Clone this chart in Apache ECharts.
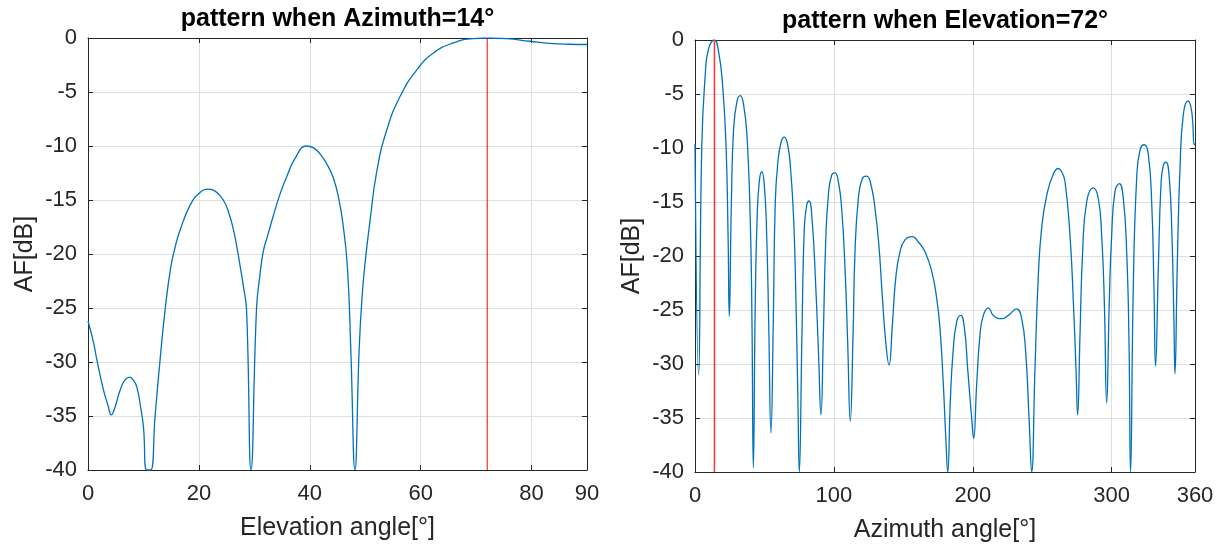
<!DOCTYPE html>
<html>
<head>
<meta charset="utf-8">
<title>Array factor patterns</title>
<script src="https://cdn.jsdelivr.net/npm/echarts@6/dist/echarts.min.js"></script>
<style>
  html, body { margin: 0; padding: 0; background: #ffffff; }
  #chart { width: 1225px; height: 548px; }
</style>
</head>
<body>
<div id="chart"></div>
<script>
// Elevation cut (azimuth fixed at 14°): angle in degrees, array factor in dB (floored at -40)
var elevAngle = [0, 1, 1.6, 2.8, 3.6, 4.2, 4.8, 5.8, 6.6, 7.5, 8.2, 8.8, 9.5, 10.0, 10.6, 11.3,
  12.1, 13.0, 13.9, 14.9, 15.7, 16.6, 18.4, 20.0, 21.7, 23.0, 24.4, 25.4, 26.2, 26.8, 27.4, 28.0,
  28.6, 29.4, 30.4, 31.0, 31.6, 32.4, 33.4, 34.6, 35.8, 37.5, 39.4, 40.6, 41.8, 43.0, 44.2, 45.2,
  46.0, 46.8, 47.4, 48.15, 48.9, 49.4, 50.0, 50.9, 52.1, 53.9, 56.3, 59.3, 62.3, 65.9, 69.5, 72,
  75.5, 79.7, 83.3, 86.6, 90];
var elevAF = [-26.2, -28.2, -29.8, -32.6, -34.0, -34.9, -34.3, -32.6, -31.7, -31.4, -31.7, -32.3, -34.2, -36.0, -40, -40,
  -35.0, -29.8, -25.2, -21.3, -19.4, -17.8, -15.5, -14.4, -14.0, -14.2, -15.0, -16.2, -17.7, -19.2, -21.0, -22.9,
  -25.2, -40, -25.0, -22.0, -19.8, -18.3, -16.5, -14.5, -12.9, -11.0, -10.0, -10.15, -10.7, -11.6, -12.9, -14.8,
  -17.3, -21.3, -28.9, -40, -28.9, -24.2, -20.7, -16.8, -12.3, -8.5, -5.4, -2.95, -1.39, -0.46, -0.05, 0,
  -0.06, -0.3, -0.5, -0.58, -0.6];

// Azimuth cut (elevation fixed at 72°)
var azAngle = [0, 2.6, 4.9, 7.4, 9.8, 14, 17.0, 19.9, 22.3, 23.8, 24.7, 26.2, 27.8, 30.2, 32.6, 35.0,
  37.4, 39.8, 41.0, 42.0, 43.4, 44.8, 46.3, 48.0, 49.9, 51.6, 53.0, 54.7, 56.4, 57.8, 59.7, 62.1,
  64.3, 66.7, 68.8, 71.0, 72.7, 74.1, 75.1, 77.0, 78.7, 80.4, 82.1, 84.4, 86.9, 88.9, 90.7, 92.4,
  94.1, 96.0, 98.4, 100.8, 103.2, 105.6, 108.0, 109.9, 111.8, 113.8, 115.2, 117.6, 120.5, 123.6, 126.7, 129.6,
  132.4, 134.8, 137.3, 139.7, 142.1, 144.5, 147.6, 151.2, 156.5, 160.8, 165.6, 170.4, 174.0, 176.4, 178.8, 180.5,
  182.0, 183.8, 185.8, 188.4, 191.3, 194.0, 196.3, 199.2, 200.6, 202.8, 205.2, 207.6, 211.2, 214.8, 220.8, 225.6,
  231.6, 235.2, 238.1, 240.5, 242.4, 244.8, 247.2, 249.6, 253.2, 258.0, 261.6, 264.0, 266.4, 270.0, 272.4, 274.3,
  275.5, 277.2, 279.1, 282.0, 286.8, 290.4, 292.8, 294.7, 296.4, 298.3, 300.0, 302.4, 305.5, 308.4, 310.8, 312.4,
  313.6, 315.6, 318.0, 320.4, 323.5, 326.4, 328.8, 330.4, 331.6, 333.6, 335.5, 337.2, 339.1, 341.5, 343.4, 344.8,
  345.6, 347.2, 349.2, 351.6, 354.9, 357.6, 359.5, 360];
var azAF = [-9.6, -31.0, -9.7, -3.2, -0.8, 0, -1.1, -4.2, -9.7, -18.0, -25.6, -15.0, -8.2, -5.7, -5.15, -6.0,
  -8.8, -16.8, -25.8, -39.6, -24.2, -16.2, -13.1, -12.2, -13.4, -18.0, -25.8, -36.4, -25.8, -15.0, -11.3, -9.4,
  -9.0, -9.7, -11.9, -16.5, -24.2, -33.5, -40, -27.3, -17.4, -15.3, -14.9, -16.8, -22.7, -28.9, -34.7, -27.3,
  -18.7, -14.4, -12.5, -12.3, -13.1, -15.6, -21.1, -27.9, -35.3, -27.3, -19.6, -14.7, -12.8, -12.6, -13.4, -15.6,
  -19.0, -23.6, -27.9, -30.1, -26.4, -22.1, -19.6, -18.5, -18.2, -18.7, -19.6, -21.4, -23.9, -26.7, -31.9, -36.6,
  -40, -33.5, -28.9, -26.1, -25.5, -26.7, -30.4, -35.0, -36.9, -31.9, -27.3, -25.5, -24.8, -25.5, -25.8, -25.5,
  -24.9, -25.8, -28.9, -35.0, -40, -30.4, -21.8, -17.4, -14.4, -12.4, -11.9, -12.2, -13.1, -18.1, -24.2, -30.4,
  -34.7, -27.3, -19.6, -15.0, -13.7, -14.7, -18.1, -24.2, -33.6, -24.2, -18.1, -14.0, -13.3, -14.7, -19.6, -27.3,
  -40, -22.7, -12.8, -10.2, -9.7, -10.6, -15.0, -22.7, -30.2, -21.1, -13.4, -11.6, -11.3, -12.8, -18.1, -25.8,
  -30.9, -21.1, -11.9, -6.9, -5.65, -6.6, -9.7, -9.6];

// Steering directions marked by the red lines
var steerElevation = 72;
var steerAzimuth = 14;

// Axis ranges and tick spacing
var afRange = [-40, 0], afStep = 5;
var elevRange = [0, 90], elevStep = 20;
var azRange = [0, 360], azStep = 100;

var titles = ['pattern when Azimuth=14\u00b0', 'pattern when Elevation=72\u00b0'];
var xNames = ['Elevation angle[\u00b0]', 'Azimuth angle[\u00b0]'];
var yName = 'AF[dB]';

var FONT = 'Arial, "Liberation Sans", Helvetica, sans-serif';
var INK = '#262626';
var GRID_LINE = '#dfdfdf';
var CURVE = '#0072bd';

function pairs(xs, ys) {
  return xs.map(function (x, i) { return [x, ys[i]]; });
}

function xAxes(gridIndex, range, step, name) {
  var base = {
    gridIndex: gridIndex, type: 'value', min: range[0], max: range[1], interval: step,
    axisLine: { show: true, onZero: false, lineStyle: { color: INK, width: 1 } },
    axisTick: { show: true, inside: true, length: 5, lineStyle: { color: INK, width: 1 } }
  };
  return [
    Object.assign({}, base, {
      position: 'bottom',
      name: name, nameLocation: 'middle', nameGap: 46,
      nameTextStyle: { fontFamily: FONT, fontSize: 25, color: INK },
      axisLabel: { show: true, fontFamily: FONT, fontSize: 22, color: INK, margin: 13 },
      splitLine: { show: true, lineStyle: { color: GRID_LINE, width: 1 } }
    }),
    Object.assign({}, base, {
      position: 'top',
      axisLabel: { show: false },
      splitLine: { show: false }
    })
  ];
}

function yAxes(gridIndex) {
  var base = {
    gridIndex: gridIndex, type: 'value', min: afRange[0], max: afRange[1], interval: afStep,
    axisLine: { show: true, onZero: false, lineStyle: { color: INK, width: 1 } },
    axisTick: { show: true, inside: true, length: 5, lineStyle: { color: INK, width: 1 } }
  };
  return [
    Object.assign({}, base, {
      position: 'left',
      name: yName, nameLocation: 'middle', nameGap: 50,
      nameTextStyle: { fontFamily: FONT, fontSize: 25, color: INK },
      axisLabel: { show: true, fontFamily: FONT, fontSize: 22, color: INK, margin: 11 },
      splitLine: { show: true, lineStyle: { color: GRID_LINE, width: 1 } }
    }),
    Object.assign({}, base, {
      position: 'right',
      axisLabel: { show: false },
      splitLine: { show: false }
    })
  ];
}

var chart = echarts.init(document.getElementById('chart'), null, { renderer: 'canvas' });

chart.setOption({
  backgroundColor: '#ffffff',
  animation: false,
  title: [
    { text: titles[0], left: 337.5, top: 7, textAlign: 'center', padding: 0,
      textStyle: { fontFamily: FONT, fontSize: 25, fontWeight: 'bold', color: '#000000' } },
    { text: titles[1], left: 945, top: 9, textAlign: 'center', padding: 0,
      textStyle: { fontFamily: FONT, fontSize: 25, fontWeight: 'bold', color: '#000000' } }
  ],
  grid: [
    { left: 88, top: 38, width: 499, height: 432, containLabel: false },
    { left: 695, top: 40, width: 500, height: 432, containLabel: false }
  ],
  xAxis: xAxes(0, elevRange, elevStep, xNames[0]).concat(xAxes(1, azRange, azStep, xNames[1])),
  yAxis: yAxes(0).concat(yAxes(1)),
  series: [
    {
      type: 'line', xAxisIndex: 0, yAxisIndex: 0,
      data: pairs(elevAngle, elevAF),
      smooth: 0.5, showSymbol: false, clip: true,
      lineStyle: { color: CURVE, width: 1.3 }, z: 3
    },
    {
      type: 'line', xAxisIndex: 0, yAxisIndex: 0,
      data: [[steerElevation, afRange[0]], [steerElevation, afRange[1]]],
      showSymbol: false, clip: true,
      lineStyle: { color: '#ff0000', width: 1 }, z: 4
    },
    {
      type: 'line', xAxisIndex: 2, yAxisIndex: 2,
      data: pairs(azAngle, azAF),
      smooth: 0.5, showSymbol: false, clip: true,
      lineStyle: { color: CURVE, width: 1.3 }, z: 3
    },
    {
      type: 'line', xAxisIndex: 2, yAxisIndex: 2,
      data: [[steerAzimuth, afRange[0]], [steerAzimuth, afRange[1]]],
      showSymbol: false, clip: true,
      lineStyle: { color: '#ff3333', width: 1.5 }, z: 4
    }
  ]
});
</script>
</body>
</html>
